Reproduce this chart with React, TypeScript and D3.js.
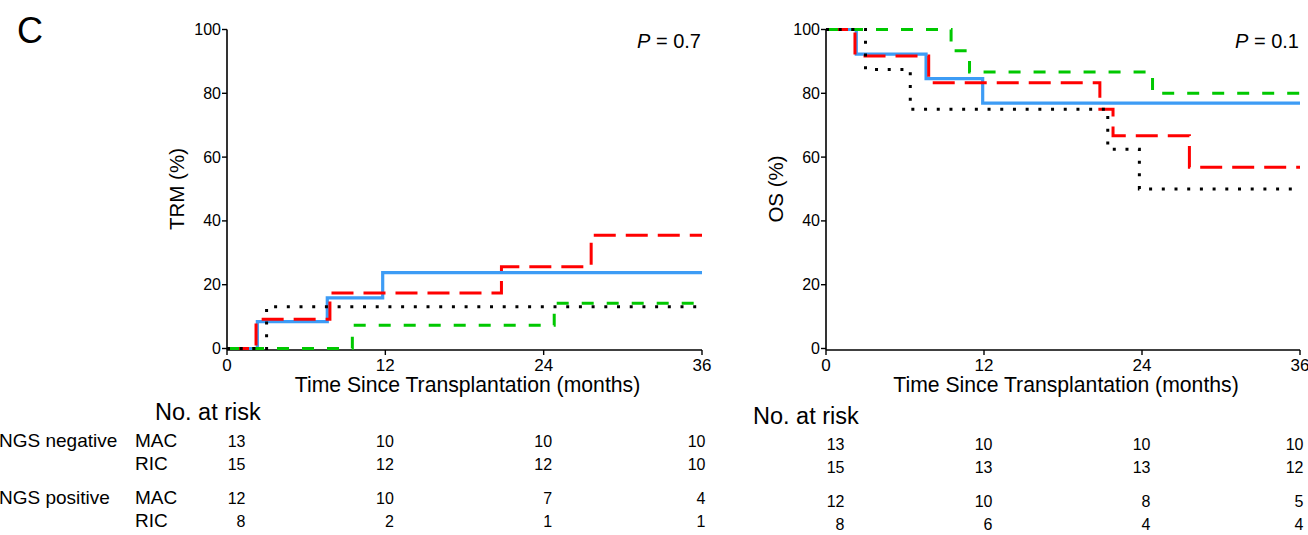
import React from 'react';
import * as d3 from 'd3';

// ---------- data ----------
const xTicks = [0, 12, 24, 36];
const yTicks = [0, 20, 40, 60, 80, 100];

// TRM (%) step points: [months, %]
const trmNegMAC = [[0, 0], [2.3, 8.4], [7.6, 15.9], [11.8, 23.8], [36, 23.8]];
const trmNegRIC = [[0, 0], [9.5, 7.3], [24.8, 14.2], [36, 14.2]];
const trmPosMAC = [[0, 0], [2.2, 9.2], [7.8, 17.4], [20.8, 25.6], [27.6, 35.5], [36, 35.5]];
const trmPosRIC = [[0, 0], [3.0, 13.1], [36, 13.1]];

// OS (%) step points: [months, %]
const osNegMAC = [[0, 100], [2.3, 92.3], [7.6, 84.6], [11.9, 76.9], [36, 76.9]];
const osNegRIC = [[0, 100], [9.5, 93.3], [10.9, 86.7], [24.8, 80], [36, 80]];
const osPosMAC = [[0, 100], [2.2, 91.7], [7.8, 83.3], [20.8, 75], [21.8, 66.7], [27.6, 56.8], [36, 56.8]];
const osPosRIC = [[0, 100], [3.0, 87.5], [6.4, 75], [21.4, 62.5], [23.8, 50], [36, 50]];

const groupLabels = ['NGS negative', 'NGS positive'];
const armLabels = ['MAC', 'RIC'];
const trmRisk = [[13, 10, 10, 10], [15, 12, 12, 10], [12, 10, 7, 4], [8, 2, 1, 1]];
const osRisk = [[13, 10, 10, 10], [15, 13, 13, 12], [12, 10, 8, 5], [8, 6, 4, 4]];

const FONT = '"Liberation Sans", Arial, Helvetica, sans-serif';

const styles = {
  negMAC: { stroke: '#3d9cf5', width: 3.2, dash: undefined as string | undefined },
  posMAC: { stroke: '#ff0000', width: 3, dash: '22 10' },
  negRIC: { stroke: '#00c800', width: 3, dash: '12 13' },
  posRIC: { stroke: '#000000', width: 3, dash: '3 9.7' },
};

type Pt = number[];

function Panel(props: {
  left: number; right: number; top: number; bottom: number;
  yTitle: string; pText: string;
  series: { key: keyof typeof styles; data: Pt[] }[];
  risk: number[][]; riskTop: number; riskShift: number; showRowLabels: boolean;
  noRiskX: number; noRiskY: number;
}) {
  const { left, right, top, bottom } = props;
  const x = d3.scaleLinear().domain([0, 36]).range([left, right]);
  const y = d3.scaleLinear().domain([0, 100]).range([bottom, top]);
  const line = d3.line<Pt>().x(d => x(d[0])).y(d => y(d[1])).curve(d3.curveStepAfter);
  const colOffset = [18.5, 8.5, 8.5, 3.5];
  const rowY = [props.riskTop, props.riskTop + 23, props.riskTop + 57, props.riskTop + 80];
  const axisY = bottom + 1.5;
  return (
    <g fontFamily={FONT} fill="#000">
      {/* axes */}
      <line x1={left} x2={left} y1={top} y2={axisY} stroke="#000" strokeWidth={1.6} />
      <line x1={left} x2={right} y1={axisY} y2={axisY} stroke="#000" strokeWidth={1.6} />
      {yTicks.map(t => (
        <g key={'y' + t}>
          <line x1={left - 5} x2={left} y1={y(t)} y2={y(t)} stroke="#000" strokeWidth={1.4} />
          <text x={left - 6} y={y(t) + 5.5} fontSize={16} textAnchor="end">{t}</text>
        </g>
      ))}
      {xTicks.map(t => (
        <g key={'x' + t}>
          <line x1={x(t)} x2={x(t)} y1={axisY} y2={axisY + 5} stroke="#000" strokeWidth={1.4} />
          <text x={x(t)} y={bottom + 22} fontSize={17} textAnchor="middle">{t}</text>
        </g>
      ))}
      {props.series.map(s => {
        const st = styles[s.key];
        return (
          <path key={s.key} d={line(s.data) || ''} fill="none" stroke={st.stroke}
            strokeWidth={st.width} strokeDasharray={st.dash} strokeLinejoin="miter" />
        );
      })}
      <text x={(left + right) / 2 + 3} y={bottom + 43} fontSize={21.2} textAnchor="middle">
        Time Since Transplantation (months)
      </text>
      <text transform={`translate(${left - 43},${(top + bottom) / 2}) rotate(-90)`} fontSize={20.5}
        textAnchor="middle">{props.yTitle}</text>
      <text x={right - 1} y={48} fontSize={20} textAnchor="end">
        <tspan fontStyle="italic">P</tspan> = {props.pText}
      </text>
      {/* risk table */}
      <text x={props.noRiskX} y={props.noRiskY} fontSize={23.5}>No. at risk</text>
      {props.showRowLabels && groupLabels.map((g, gi) => (
        <text key={g} x={-1} y={rowY[gi * 2]} fontSize={19}>{g}</text>
      ))}
      {props.showRowLabels && rowY.map((ry, ri) => (
        <text key={'arm' + ri} x={135} y={ry} fontSize={19}>{armLabels[ri % 2]}</text>
      ))}
      {props.risk.map((row, ri) => row.map((v, ci) => (
        <text key={ri + '-' + ci} x={x(xTicks[ci]) + colOffset[ci]} y={rowY[ri] + props.riskShift}
          fontSize={16} textAnchor="end">{v}</text>
      )))}
    </g>
  );
}

export default function App() {
  return (
    <svg width={1308} height={535} style={{ position: 'absolute', left: 0, top: 0, background: '#fff' }}>
      <rect width={1308} height={535} fill="#fff" />
      <text x={17} y={43} fontSize={36} fontFamily={FONT}>C</text>
      <Panel left={227} right={702} top={29.5} bottom={348.5} yTitle="TRM (%)" pText="0.7"
        series={[
          { key: 'negMAC', data: trmNegMAC },
          { key: 'posMAC', data: trmPosMAC },
          { key: 'negRIC', data: trmNegRIC },
          { key: 'posRIC', data: trmPosRIC },
        ]}
        risk={trmRisk} riskTop={447} riskShift={0} showRowLabels={true} noRiskX={155} noRiskY={420} />
      <Panel left={826} right={1300} top={29.5} bottom={348.5} yTitle="OS (%)" pText="0.1"
        series={[
          { key: 'negMAC', data: osNegMAC },
          { key: 'posMAC', data: osPosMAC },
          { key: 'negRIC', data: osNegRIC },
          { key: 'posRIC', data: osPosRIC },
        ]}
        risk={osRisk} riskTop={447} riskShift={3} showRowLabels={false} noRiskX={753} noRiskY={424} />
    </svg>
  );
}
